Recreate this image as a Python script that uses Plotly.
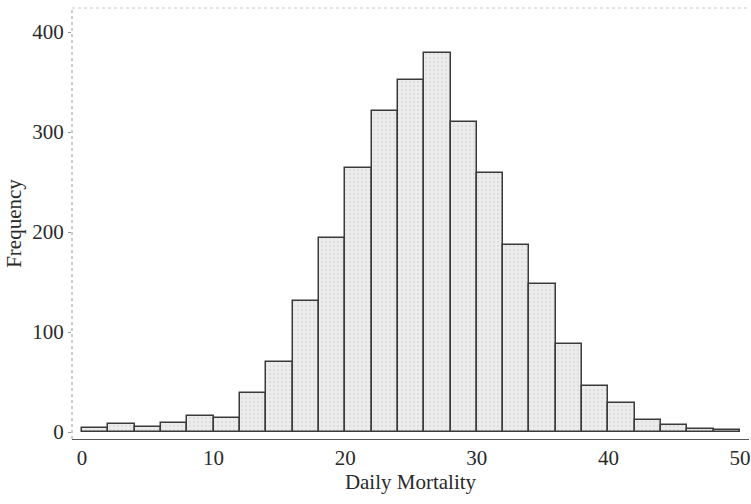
import plotly.graph_objects as go

bin_starts = list(range(0, 50, 2))
bin_width = 2
frequencies = [4, 8, 5, 9, 16, 14, 39, 70, 131, 194, 264, 321, 352, 379, 310,
               259, 187, 148, 88, 46, 29, 12, 7, 3, 2]
x_ticks = [0, 10, 20, 30, 40, 50]
y_ticks = [0, 100, 200, 300, 400]

centers = [s + bin_width / 2 for s in bin_starts]

fig = go.Figure()
fig.add_trace(go.Bar(
    x=centers, y=frequencies, width=[bin_width] * len(centers),
    marker=dict(color="#e9e9e9",
                line=dict(color="#3a3a3a", width=1.5),
                pattern=dict(shape=".", fgcolor="#cfcfcf", bgcolor="#ececec",
                             size=4, solidity=0.25)),
    showlegend=False,
))

font_family = "Liberation Serif"
fig.update_layout(
    width=751, height=504,
    margin=dict(l=72, r=0, t=8, b=65),
    paper_bgcolor="white", plot_bgcolor="white",
    bargap=0,
    font=dict(family=font_family, size=21, color="#2a2a2a"),
    xaxis=dict(range=[-0.76, 50.68], tickvals=x_ticks, ticks="",
               showgrid=False, zeroline=False,
               showline=True, linecolor="#555555", linewidth=1.2,
               ticklabeloverflow="allow",
               tickfont=dict(size=21, family=font_family),
               title=dict(text="Daily Mortality", standoff=4,
                          font=dict(size=21, family=font_family))),
    yaxis=dict(range=[-7, 424], tickvals=y_ticks, ticks="outside", ticklen=3,
               tickcolor="#999999",
               showgrid=False, zeroline=False, showline=False,
               tickfont=dict(size=21, family=font_family),
               title=dict(text="Frequency", standoff=4,
                          font=dict(size=21, family=font_family))),
    shapes=[
        dict(type="line", xref="paper", yref="paper", x0=0, x1=0, y0=0, y1=1,
             line=dict(color="#9a9a9a", width=1, dash="dot")),
        dict(type="line", xref="paper", yref="paper", x0=0, x1=1, y0=1, y1=1,
             line=dict(color="#c8c8c8", width=1, dash="dot")),
    ],
)

fig.write_html("out.html")
